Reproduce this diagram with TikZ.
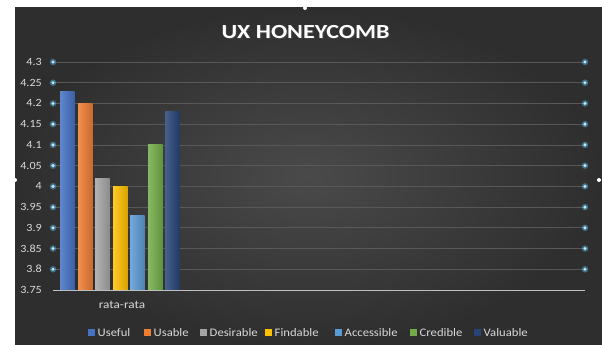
\documentclass[tikz,border=0pt]{standalone}
\usepackage{fontspec}
\setmainfont{Carlito}
\usetikzlibrary{shadings}
\definecolor{cUseful}{HTML}{4472C4}
\definecolor{cUsable}{HTML}{ED7D31}
\definecolor{cDesirable}{HTML}{A5A5A5}
\definecolor{cFindable}{HTML}{FFC000}
\definecolor{cAccessible}{HTML}{5B9BD5}
\definecolor{cCredible}{HTML}{70AD47}
\definecolor{cValuable}{HTML}{264478}
\definecolor{bgdark}{HTML}{2E2E2E}
\definecolor{bgmid}{HTML}{4A4A4A}
\definecolor{gridc}{HTML}{585858}
\definecolor{axisc}{HTML}{BFBFBF}
\definecolor{txtc}{HTML}{D9D9D9}
\definecolor{dotc}{HTML}{BDEBFF}
\definecolor{glowc}{HTML}{5BB8E8}
\tikzset{
  ticklabel/.style={anchor=east, text=txtc, font=\fontsize{11}{13}\selectfont, inner sep=0pt, xscale=1.1},
  legtext/.style={anchor=west, text=txtc, font=\fontsize{11.5}{13}\selectfont, inner sep=0pt, xscale=1.1},
  gridline/.style={draw=gridc, line width=0.7pt},
  glowdot/.style={circle, fill=dotc, inner sep=0pt, minimum size=3.4pt},
  handle/.style={circle, fill=white, inner sep=0pt, minimum size=4pt},
}
\begin{document}
\begin{tikzpicture}[x=1pt,y=-1pt]
\useasboundingbox (0,0) rectangle (602,345);
\fill[white] (0,0) rectangle (602,345);
% background
\fill[bgdark] (15,8) rectangle (602,345);
\shade[inner color=bgmid, outer color=bgdark] (15,8) rectangle (602,345);
% grid lines and dots
\foreach \i in {1,...,11}{
  \pgfmathsetmacro{\yy}{290-\i*20.727}
  \draw[gridline] (53,\yy) -- (585,\yy);
  \fill[glowc, opacity=0.45] (53,\yy) circle (3.3pt);
  \fill[glowc, opacity=0.45] (585,\yy) circle (3.3pt);
  \node[glowdot] (dl\i) at (53,\yy) {};
  \node[glowdot] (dr\i) at (585,\yy) {};
}
% tick labels
\foreach \i/\lab in {0/3.75,1/3.8,2/3.85,3/3.9,4/3.95,5/4,6/4.05,7/4.1,8/4.15,9/4.2,10/4.25,11/4.3}{
  \pgfmathsetmacro{\yy}{290-\i*20.727}
  \node[ticklabel] (t\i) at (42,\yy) {\lab};
}
% bars
\foreach \x/\v/\c in {60/4.23/cUseful,78/4.20/cUsable,95/4.02/cDesirable,113/4.00/cFindable,130/3.93/cAccessible,148/4.10/cCredible,165/4.18/cValuable}{
  \pgfmathsetmacro{\yt}{290-(\v-3.75)*414.545}
  \shade[left color=\c!85!white, right color=\c!85!black] (\x,290) rectangle (\x+14.5,\yt);
}
% axis
\draw[axisc, line width=1pt] (53,290) -- (585,290);
% category label
\node[text=txtc, font=\fontsize{11.5}{13}\selectfont, xscale=1.15] (cat) at (122,305) {rata-rata};
% title
\node[text=black!70, font=\bfseries\fontsize{20}{24}\selectfont, opacity=0.6, xscale=1.2] at (306.5,33) {UX HONEYCOMB};
\node[text=white, font=\bfseries\fontsize{20}{24}\selectfont, xscale=1.2] (title) at (305.5,32) {UX HONEYCOMB};
% legend
\foreach \sx/\c/\lab/\n in {88/cUseful/Useful/l1,144/cUsable/Usable/l2,200/cDesirable/Desirable/l3,265/cFindable/Findable/l4,335/cAccessible/Accessible/l5,410/cCredible/Credible/l6,474/cValuable/Valuable/l7}{
  \fill[\c] (\sx,328.5) rectangle (\sx+7,335.5);
  \node[legtext] (\n) at (\sx+9.5,332.5) {\lab};
}
% selection handles
\node[handle] (h1) at (305,8) {};
\node[handle] (h2) at (15,180) {};
\node[handle] (h3) at (599,180) {};
\end{tikzpicture}
\end{document}
